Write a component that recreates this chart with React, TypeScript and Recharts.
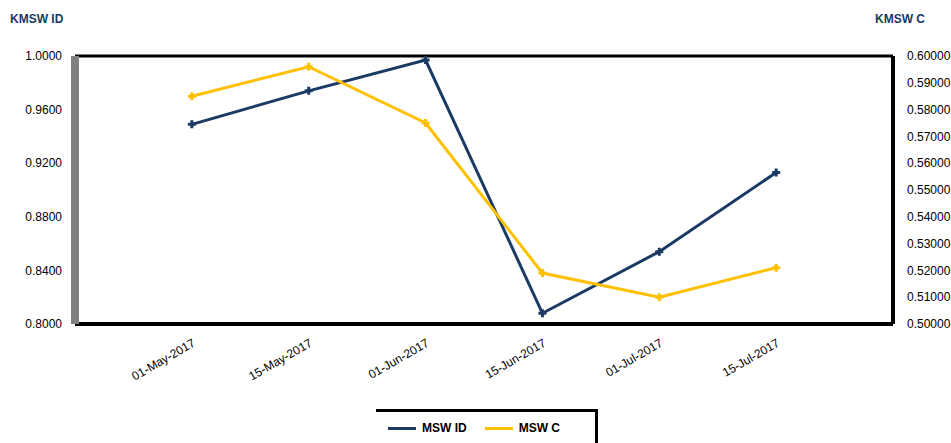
import React from "react";
import { LineChart, Line, XAxis, YAxis, ReferenceLine } from "recharts";

const categories = ["01-May-2017", "15-May-2017", "01-Jun-2017", "15-Jun-2017", "01-Jul-2017", "15-Jul-2017"];
const msgIdValues = [0.949, 0.974, 0.997, 0.808, 0.854, 0.913];
const msgCValues = [0.585, 0.596, 0.575, 0.519, 0.51, 0.521];
const leftTicks = [0.8, 0.84, 0.88, 0.92, 0.96, 1.0];
const rightTicks = [0.5, 0.51, 0.52, 0.53, 0.54, 0.55, 0.56, 0.57, 0.58, 0.59, 0.6];

const seriesNames = { left: "MSW ID", right: "MSW C" };
const colors = { navy: "#1a3a64", gold: "#ffc000" };

const data = categories.map((name, i) => ({
  pos: i + 1,
  name,
  id: msgIdValues[i],
  c: msgCValues[i]
}));

const tickStyle = { fill: "#000", fontSize: 12, fontFamily: "Liberation Sans, Arial, sans-serif" };

function PlusDot({ cx, cy, stroke }: { cx?: number; cy?: number; stroke?: string }) {
  if (cx == null || cy == null) return null;
  return (
    <path
      d={`M${cx - 4},${cy}H${cx + 4}M${cx},${cy - 4}V${cy + 4}`}
      stroke={stroke}
      strokeWidth={3}
      fill="none"
    />
  );
}

function LegendBox() {
  const items = [
    { name: seriesNames.left, color: colors.navy },
    { name: seriesNames.right, color: colors.gold }
  ];
  return (
    <div
      style={{
        position: "absolute",
        left: 376,
        top: 409,
        width: 222,
        height: 40,
        borderTop: "3px solid #000",
        borderRight: "3px solid #000",
        display: "flex",
        alignItems: "flex-start",
        paddingTop: 9,
        paddingLeft: 12,
        boxSizing: "border-box",
        fontFamily: "Liberation Sans, Arial, sans-serif",
        fontSize: 12,
        fontWeight: 700
      }}
    >
      {items.map((item) => (
        <div key={item.name} style={{ display: "flex", alignItems: "center", marginRight: 18 }}>
          <span style={{ display: "inline-block", width: 28, height: 3, background: item.color, marginRight: 6 }} />
          <span>{item.name}</span>
        </div>
      ))}
    </div>
  );
}

export default function App() {
  const titleStyle: React.CSSProperties = {
    position: "absolute",
    top: 12,
    fontFamily: "Liberation Sans, Arial, sans-serif",
    fontSize: 12,
    fontWeight: 700,
    color: "#1a3a64"
  };
  return (
    <div style={{ position: "absolute", left: 0, top: 0, width: 951, height: 443, background: "#fff", overflow: "hidden" }}>
      <div style={{ ...titleStyle, left: 10 }}>K{seriesNames.left}</div>
      <div style={{ ...titleStyle, left: 875 }}>K{seriesNames.right}</div>
      <LineChart width={951} height={443} data={data} margin={{ top: 56, right: 0, bottom: 59, left: 0 }}>
        <XAxis
          dataKey="pos"
          type="number"
          domain={[0, 7]}
          ticks={[1, 2, 3, 4, 5, 6]}
          tickFormatter={(v: number) => categories[v - 1] ?? ""}
          stroke="#000"
          strokeWidth={4}
          tickLine={false}
          angle={-30}
          textAnchor="end"
          tick={tickStyle}
          tickMargin={8}
          height={60}
          interval={0}
        />
        <YAxis
          yAxisId="left"
          domain={[0.8, 1.0]}
          ticks={leftTicks}
          tickFormatter={(v: number) => v.toFixed(4)}
          stroke="#808080"
          strokeWidth={8}
          tickLine={false}
          tick={tickStyle}
          tickMargin={7}
          width={75}
        />
        <YAxis
          yAxisId="right"
          orientation="right"
          domain={[0.5, 0.6]}
          ticks={rightTicks}
          tickFormatter={(v: number) => v.toFixed(5)}
          stroke="#000"
          strokeWidth={4}
          tickLine={false}
          tick={tickStyle}
          tickMargin={8}
          width={58}
        />
        <ReferenceLine yAxisId="left" y={1.0} stroke="#000" strokeWidth={3} />
        <Line
          yAxisId="left"
          dataKey="id"
          name={seriesNames.left}
          stroke={colors.navy}
          strokeWidth={3}
          dot={<PlusDot />}
          type="linear"
          isAnimationActive={false}
        />
        <Line
          yAxisId="right"
          dataKey="c"
          name={seriesNames.right}
          stroke={colors.gold}
          strokeWidth={3}
          dot={<PlusDot />}
          type="linear"
          isAnimationActive={false}
        />
      </LineChart>
      <LegendBox />
    </div>
  );
}
